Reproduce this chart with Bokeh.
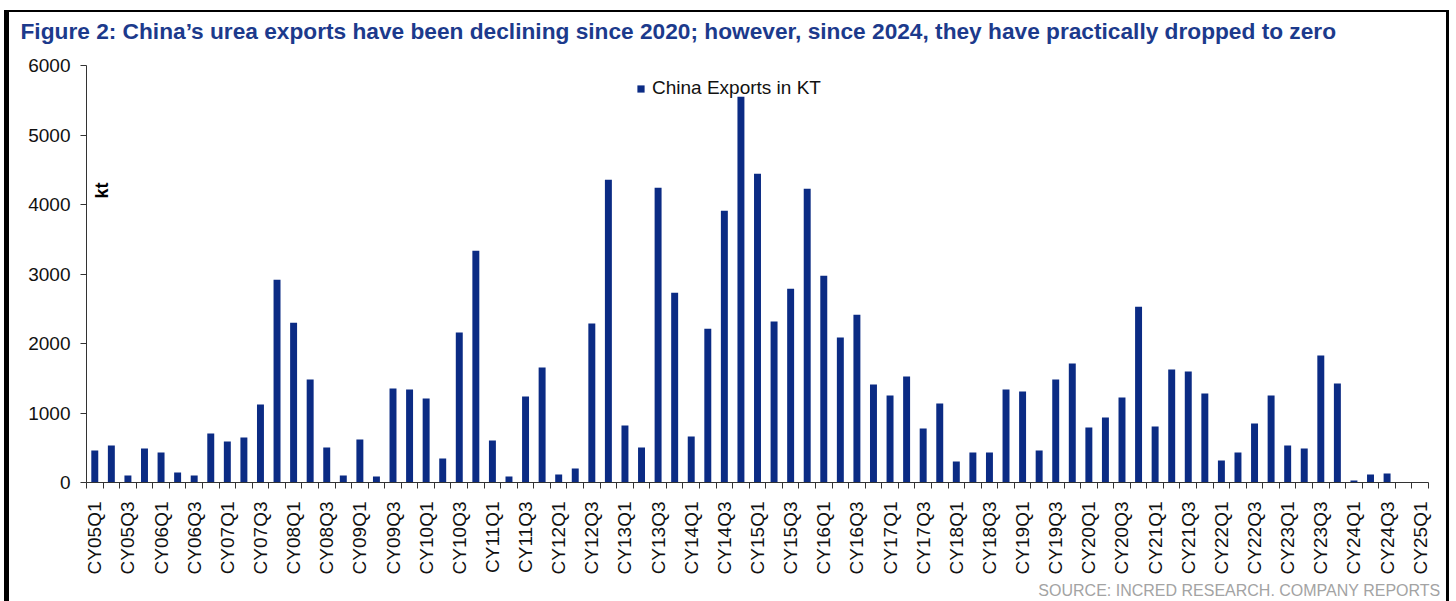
import numpy as np
from bokeh.plotting import figure
from bokeh.models import (ColumnDataSource, FixedTicker, Label, Title,
                          Legend, LegendItem, Range1d)
from bokeh.embed import file_html
from bokeh.resources import INLINE

# Quarter labels CY05Q1 ... CY25Q1
years = ["05", "06", "07", "08", "09", "10", "11", "12", "13", "14",
         "15", "16", "17", "18", "19", "20", "21", "22", "23", "24"]
quarter_names = ["Q1", "Q2", "Q3", "Q4"]
quarters = [f"CY{y}{q}" for y in years for q in quarter_names] + ["CY25Q1"]

# China urea exports per quarter, kt
exports_kt = [
    460, 532, 100, 489,      # 2005
    431, 144, 100, 704,      # 2006
    589, 647, 1121, 2918,    # 2007
    2300, 1481, 503, 100,    # 2008
    618, 86, 1351, 1337,     # 2009
    1208, 345, 2157, 3335,   # 2010
    604, 86, 1236, 1653,     # 2011
    115, 201, 2286, 4356,    # 2012
    819, 503, 4241, 2732,    # 2013
    661, 2214, 3910, 5549,   # 2014
    4442, 2315, 2789, 4227,  # 2015
    2976, 2085, 2415, 1409,  # 2016
    1251, 1524, 776, 1136,   # 2017
    302, 431, 431, 1337,     # 2018
    1308, 460, 1481, 1711,   # 2019
    791, 934, 1222, 2530,    # 2020
    805, 1625, 1596, 1280,   # 2021
    316, 431, 848, 1251,     # 2022
    532, 489, 1826, 1423,    # 2023
    29, 115, 129, 0,         # 2024
    0,                       # 2025
]
y_ticks = [0, 1000, 2000, 3000, 4000, 5000, 6000]

title_text = ("Figure 2: China\u2019s urea exports have been declining since 2020; "
              "however, since 2024, they have practically dropped to zero")
series_name = "China Exports in KT"
source_text = "SOURCE: INCRED RESEARCH. COMPANY REPORTS"

BAR = "#0B2B84"
TITLE_BLUE = "#1C3A8C"
FONT = "Liberation Sans"

idx = list(range(len(quarters)))
src = ColumnDataSource(dict(x=idx, kt=exports_kt, q=quarters))

p = figure(width=1456, height=601, output_backend="svg", toolbar_location=None,
           x_range=Range1d(-0.5, len(quarters) - 0.5), y_range=Range1d(0, 6000),
           min_border_left=86, min_border_right=28, min_border_top=65,
           min_border_bottom=119)
p.title.visible = False
p.xgrid.visible = False
p.ygrid.visible = False
p.outline_line_color = None
p.background_fill_alpha = 0
p.border_fill_alpha = 0

# black frame lines (left, top, right) painted behind the transparent canvas
p.styles = {
    "background": (
        "linear-gradient(#000,#000) 4px 10px / 5px 591px no-repeat, "
        "linear-gradient(#000,#000) 4px 10px / 1445px 2px no-repeat, "
        "linear-gradient(#000,#000) 1446px 10px / 3px 591px no-repeat, "
        "#ffffff"
    )
}

# white spacer panel next to the plot area, heading stacked above it
p.add_layout(Title(text=".", text_font_size="2px", standoff=14,
                   text_color="#ffffff"), "above")
p.add_layout(Title(text=title_text, align="left", offset=-66, standoff=10,
                   text_font=FONT, text_font_size="22.7px",
                   text_font_style="bold", text_color=TITLE_BLUE), "above")

bars = p.vbar(x="x", top="kt", width=0.42, source=src,
              fill_color=BAR, line_color=None)

# x axis: labels on every other quarter, tick marks on category boundaries
xa = p.xaxis[0]
xa.ticker = FixedTicker(ticks=idx[::2],
                        minor_ticks=[i - 0.5 for i in range(len(quarters) + 1)])
xa.major_label_overrides = {i: quarters[i] for i in idx[::2]}
xa.major_tick_out = 0
xa.major_tick_in = 0
xa.minor_tick_out = 6
xa.minor_tick_in = 0
xa.minor_tick_line_color = "#333333"
xa.axis_line_color = "#333333"
xa.major_label_orientation = np.pi / 2
xa.major_label_standoff = 13
xa.major_label_text_font = FONT
xa.major_label_text_font_size = "19px"
xa.major_label_text_color = "#111111"

ya = p.yaxis[0]
ya.ticker = FixedTicker(ticks=y_ticks)
ya.major_tick_out = 6
ya.major_tick_in = 0
ya.minor_tick_out = 0
ya.minor_tick_in = 0
ya.major_tick_line_color = "#333333"
ya.axis_line_color = "#333333"
ya.major_label_standoff = 10
ya.major_label_text_font = FONT
ya.major_label_text_font_size = "19px"
ya.major_label_text_color = "#111111"

# unit label inside the plot area
p.add_layout(Label(x=15, y=292, x_units="screen", y_units="screen", text="kt",
                   angle=np.pi / 2, text_align="center", text_baseline="middle",
                   text_font=FONT, text_font_size="18px", text_font_style="bold",
                   text_color="#000000"))

legend = Legend(items=[LegendItem(label=series_name, renderers=[bars])],
                location=(550, 383), orientation="horizontal",
                glyph_width=9, glyph_height=9, label_standoff=7,
                label_text_font=FONT, label_text_font_size="19px",
                label_text_color="#111111", padding=0, spacing=0, margin=0,
                border_line_color=None, background_fill_alpha=0)
p.add_layout(legend)

src_title = Title(text=source_text, align="right", offset=-12, standoff=4,
                  text_font=FONT, text_font_size="16px",
                  text_font_style="normal", text_color="#a3a3a3")
p.add_layout(src_title, "below")

open("out.html", "w").write(file_html(p, INLINE))
